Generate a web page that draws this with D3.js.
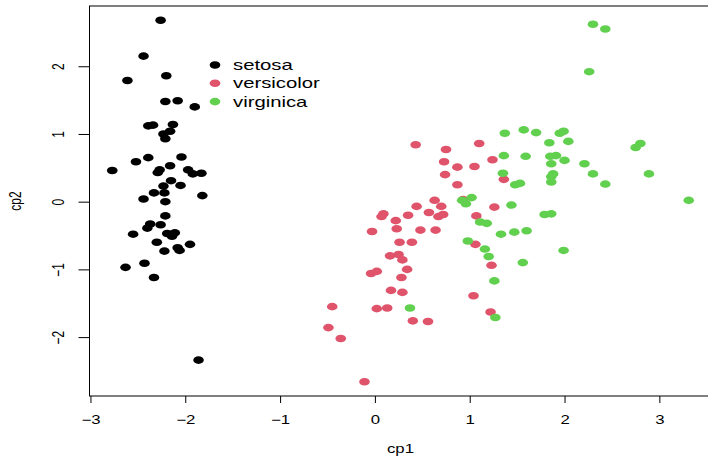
<!DOCTYPE html>
<html>
<head>
  <style>
    body{
      margin:0;
      background:#fff;
    }
    text{
      font-family: "Liberation Sans", Arial, sans-serif;
      fill:#000;
    }
  </style>
  <script src="https://d3js.org/d3.v7.min.js"></script>
</head>
<body>
<div class="chart"></div>
<script>
// scores: [cp1, cp2]
const setosa = [
  [-2.26,2.68],[-2.44,2.15],[-2.61,1.79],[-2.20,1.86],[-2.21,1.48],[-2.08,1.49],
  [-1.90,1.40],[-2.39,1.12],[-2.34,1.13],[-2.13,1.14],[-2.16,1.04],[-2.23,1.00],
  [-2.21,0.93],[-2.39,0.65],[-2.52,0.59],[-2.04,0.66],[-2.77,0.46],[-2.16,0.53],
  [-2.27,0.47],[-2.29,0.43],[-1.97,0.47],[-1.92,0.41],[-1.83,0.42],[-2.15,0.31],
  [-2.23,0.23],[-2.05,0.24],[-2.33,0.13],[-2.22,0.13],[-2.44,0.04],[-2.21,0.00],
  [-1.82,0.09],[-2.21,-0.21],[-2.37,-0.33],[-2.40,-0.39],[-2.26,-0.34],[-2.55,-0.48],
  [-2.19,-0.47],[-2.11,-0.46],[-2.14,-0.51],[-2.30,-0.60],[-1.95,-0.63],[-2.08,-0.68],
  [-2.06,-0.72],[-2.22,-0.73],[-2.43,-0.91],[-2.63,-0.97],[-2.33,-1.12],[-1.86,-2.34]
];

const versicolor = [
  [0.43,0.84],[0.75,0.77],[1.10,0.86],[0.73,0.59],[0.87,0.51],[1.05,0.52],
  [1.24,0.62],[0.74,0.40],[0.87,0.25],[1.36,0.33],[0.63,0.02],[0.44,-0.07],
  [0.70,-0.07],[0.57,-0.16],[0.67,-0.22],[0.72,-0.19],[0.93,0.03],[0.09,-0.18],
  [0.07,-0.22],[0.35,-0.20],[0.22,-0.28],[0.23,-0.40],[-0.03,-0.44],[0.48,-0.42],
  [0.64,-0.42],[1.26,-0.08],[1.07,-0.21],[1.06,-0.63],[0.26,-0.60],[0.39,-0.60],
  [0.16,-0.80],[0.25,-0.78],[0.29,-0.86],[-0.04,-1.06],[0.02,-1.03],[0.34,-1.00],
  [0.28,-1.12],[0.17,-1.31],[0.29,-1.34],[-0.45,-1.55],[0.02,-1.58],[0.13,-1.57],
  [0.40,-1.76],[0.56,-1.77],[-0.49,-1.86],[-0.36,-2.02],[-0.11,-2.66],[1.23,-0.94],
  [1.04,-1.39],[1.22,-1.63]
];

const virginica = [
  [1.37,1.01],[1.57,1.06],[1.70,1.02],[1.95,1.01],[1.99,1.04],[1.84,0.87],
  [2.04,0.89],[2.30,2.62],[2.43,2.55],[2.26,1.92],[2.80,0.86],[2.75,0.80],
  [1.36,0.68],[1.59,0.67],[1.85,0.67],[1.91,0.68],[2.00,0.61],[1.86,0.56],
  [2.21,0.56],[1.35,0.42],[1.88,0.41],[1.86,0.37],[1.86,0.29],[2.30,0.41],
  [2.89,0.41],[1.48,0.25],[1.53,0.27],[2.43,0.26],[3.31,0.02],[1.02,0.06],
  [0.92,0.02],[0.96,-0.03],[1.44,-0.05],[1.79,-0.19],[1.86,-0.18],[1.11,-0.30],
  [1.18,-0.32],[1.33,-0.48],[1.47,-0.45],[1.60,-0.43],[0.98,-0.58],[1.16,-0.70],
  [1.20,-0.81],[1.56,-0.90],[1.99,-0.72],[1.26,-1.17],[1.27,-1.71],[0.37,-1.57]
];

const species = ['setosa', 'versicolor', 'virginica'];
const speciesColours = ['#000000', '#DF536B', '#61D04F'];
const xTicks = [-3, -2, -1, 0, 1, 2, 3];
const yTicks = [-2, -1, 0, 1, 2];

const width = 708;
const height = 458;
const stretch = 1.4; // the picture is wider than it was drawn

const svg = d3.select('.chart')
  .append('svg')
  .attr('width', width)
  .attr('height', height);

const x = d3.scaleLinear()
  .domain([-3.01, 3.55])
  .range([89.5, 711.5]);

const y = d3.scaleLinear()
  .domain([-2.87, 2.89])
  .range([396, 6]);

const colour = d3.scaleOrdinal()
  .domain(species)
  .range(speciesColours);

const groups = [setosa, versicolor, virginica];

// points
groups.forEach((rows, i)=>{
  svg.append('g')
    .selectAll('ellipse')
    .data(rows)
    .enter()
    .append('ellipse')
      .attr('cx', d=>x(d[0]))
      .attr('cy', d=>y(d[1]))
      .attr('rx', 5.3)
      .attr('ry', 3.8)
      .attr('fill', colour(species[i]));
});

// x axis
const xAxis = svg.append('g')
  .attr('transform', `translate(0, ${y.range()[0]})`)
  .call(d3.axisBottom(x).tickValues(xTicks).tickSize(7).tickSizeOuter(0));
xAxis.select('.domain').remove();
xAxis.selectAll('line').attr('stroke', '#000').attr('stroke-width', 1);
xAxis.selectAll('text')
  .attr('y', null)
  .attr('dy', null)
  .attr('transform', `translate(0, 27.5) scale(${stretch}, 1)`)
  .attr('font-size', 12)
  .attr('font-family', null)
  .text(d=>d < 0 ? '\u2212' + Math.abs(d) : d);

// y axis
const yAxis = svg.append('g')
  .attr('transform', `translate(${x.range()[0]}, 0)`)
  .call(d3.axisLeft(y).tickValues(yTicks).tickSize(11).tickSizeOuter(0));
yAxis.select('.domain').remove();
yAxis.selectAll('line').attr('stroke', '#000').attr('stroke-width', 1);
yAxis.selectAll('text')
  .attr('x', null)
  .attr('dy', '0.35em')
  .attr('text-anchor', 'middle')
  .attr('transform', `translate(-31, 0) scale(${stretch}, 1) rotate(-90)`)
  .attr('font-size', 12)
  .attr('font-family', null)
  .text(d=>d < 0 ? '\u2212' + Math.abs(d) : d);

// box
svg.append('rect')
  .attr('x', x.range()[0])
  .attr('y', y.range()[1])
  .attr('width', x.range()[1] - x.range()[0])
  .attr('height', y.range()[0] - y.range()[1])
  .attr('fill', 'none')
  .attr('stroke', '#000')
  .attr('stroke-width', 1);

// axis titles
svg.append('text')
  .attr('text-anchor', 'middle')
  .attr('dy', '0.35em')
  .attr('font-size', 12)
  .attr('transform', `translate(${(x.range()[0] + x.range()[1]) / 2}, 449) scale(${stretch}, 1)`)
  .text('cp1');

svg.append('text')
  .attr('text-anchor', 'middle')
  .attr('dy', '0.35em')
  .attr('font-size', 12)
  .attr('transform', `translate(15, ${(y.range()[0] + y.range()[1]) / 2}) scale(${stretch}, 1) rotate(-90)`)
  .text('cp2');

// legend, no box
const legend = svg.append('g')
  .attr('transform', 'translate(215, 65)')
  .selectAll('g')
  .data(species)
  .enter()
  .append('g')
  .attr('transform', (d,i)=>`translate(0, ${i * 18.3})`);

legend.append('ellipse')
  .attr('rx', 5.3)
  .attr('ry', 3.8)
  .attr('fill', d=>colour(d));

legend.append('text')
  .attr('dy', '0.35em')
  .attr('font-size', 14.5)
  .attr('transform', `translate(18, 0) scale(${stretch}, 1)`)
  .text(d=>d);
</script>
</body>
</html>
